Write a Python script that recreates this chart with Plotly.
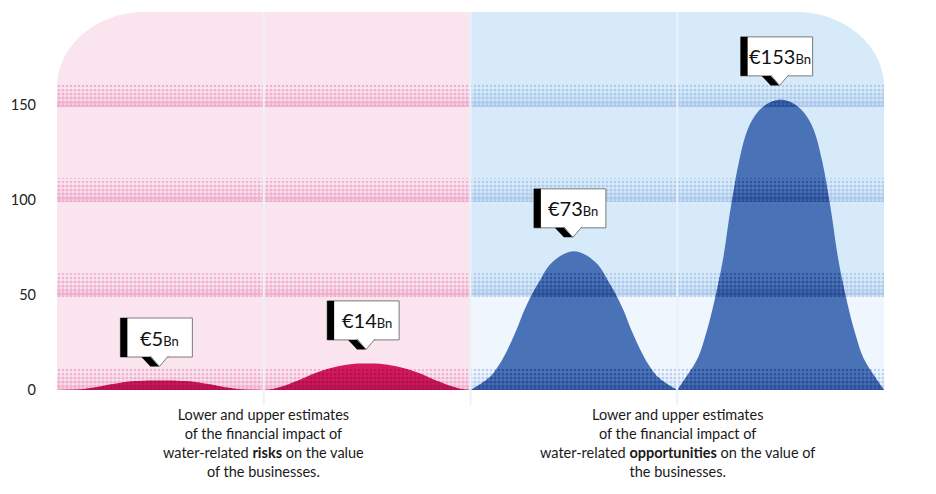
import plotly.graph_objects as go

# ---------------- data ----------------
offsets = [0, 0.05, 0.10, 0.14, 0.18, 0.22, 0.26, 0.30, 0.34, 0.38, 0.42, 0.46, 0.50,
           0.54, 0.58, 0.62, 0.66, 0.70, 0.74, 0.78, 0.82, 0.86, 0.90, 0.95, 1.0]
risk_low = [0, 0.1, 0.3, 0.7, 1.3, 2.1, 3.0, 3.7, 4.3, 4.7, 4.9, 4.98, 5,
            4.98, 4.9, 4.7, 4.3, 3.7, 3.0, 2.1, 1.3, 0.7, 0.3, 0.1, 0]
risk_high = [0, 0.7, 2.2, 3.9, 5.6, 7.6, 9.3, 10.8, 12.0, 12.9, 13.5, 13.9, 14,
             13.9, 13.5, 12.9, 12.0, 10.8, 9.3, 7.6, 5.6, 3.9, 2.2, 0.7, 0]
opp_low = [0, 3.3, 7.5, 13.5, 21.5, 31, 42, 51, 58.5, 65.5, 69.5, 72, 73,
           72, 69.5, 65.5, 58.5, 51, 42, 31, 21.5, 13.5, 7.5, 3.3, 0]
opp_high = [0, 8, 17, 30, 47, 68, 97, 121, 137, 145, 149.5, 152, 153,
            152, 149.5, 145, 137, 121, 97, 68, 47, 30, 17, 8, 0]
labels_bn = [5, 14, 73, 153]
tick_vals = [0, 50, 100, 150]
captions = [
    "Lower and upper estimates<br>of the financial impact of<br>water-related <b>risks</b> on the value<br>of the businesses.",
    "Lower and upper estimates<br>of the financial impact of<br>water-related <b>opportunities</b> on the value of<br>the businesses.",
]

series = [risk_low, risk_high, opp_low, opp_high]

# ---------------- geometry / style ----------------
W, H = 936, 494
ML, MR, MT, MB = 57, 52, 12, 104
PW, PH = W - ML - MR, H - MT - MB
XMAX, YMAX = 4, 199
def dx(p): return p * XMAX / PW
def dy(p): return p * YMAX / PH

PINK_BG, BLUE_BG, BLUE_LOW = "#fae5ef", "#d6eaf9", "#eff6fd"
PINK_DOT, BLUE_DOT = "#e67dae", "#87ace0"
PINK_DARK, BLUE_DARK = "#900a3d", "#0f2e7e"
PINK, BLUE = "#d3185b", "#4a72b6"
FONT = "Lato"

fig = go.Figure()
shapes = []
annotations = []

# backgrounds with rounded top corners
k = 0.5523
rx, ry = dx(88), dy(75)
pink_path = (f"M 0,0 L 0,{YMAX-ry} C 0,{YMAX-ry+k*ry} {rx-k*rx},{YMAX} {rx},{YMAX} "
             f"L 2,{YMAX} L 2,0 Z")
blue_path = (f"M 2,0 L 2,{YMAX} L {4-rx},{YMAX} C {4-rx+k*rx},{YMAX} 4,{YMAX-ry+k*ry} 4,{YMAX-ry} "
             f"L 4,0 Z")
shapes.append(dict(type="path", path=pink_path, fillcolor=PINK_BG, line=dict(width=0), layer="below"))
shapes.append(dict(type="path", path=blue_path, fillcolor=BLUE_BG, line=dict(width=0), layer="below"))
shapes.append(dict(type="rect", x0=2, x1=4, y0=0, y1=50, fillcolor=BLUE_LOW, line=dict(width=0), layer="below"))

# halftone band strips: (low offset, high offset, solidity)
strips = [(-1, 2, 0.8), (2, 5, 0.64), (5, 8.2, 0.47), (8.2, 11.5, 0.3)]

def band_trace(x0, x1, lo, hi, color, sol):
    return go.Scatter(x=[x0, x1, x1, x0, x0], y=[lo, lo, hi, hi, lo], mode="lines",
                      fill="toself", fillcolor="rgba(0,0,0,0)", line=dict(width=0),
                      fillpattern=dict(shape=".", fgcolor=color, bgcolor="rgba(0,0,0,0)",
                                       size=4, solidity=sol),
                      hoverinfo="skip", showlegend=False)

for v in tick_vals:
    for a, b, sol in strips:
        lo, hi = max(0, v + a), v + b
        fig.add_trace(band_trace(0, 2, lo, hi, PINK_DOT, sol))
        fig.add_trace(band_trace(2, 4, lo, hi, BLUE_DOT, sol))

# curves
for i, ys in enumerate(series):
    xs = [i + o for o in offsets]
    col = PINK if i < 2 else BLUE
    fig.add_trace(go.Scatter(x=xs, y=ys, mode="lines", line=dict(width=0, shape="spline", color=col),
                             fill="tozeroy", fillcolor=col, hoverinfo="skip", showlegend=False))

def clip_under(xs, ys, lo, hi):
    pts = []
    for j in range(len(xs) - 1):
        x0, y0, x1, y1 = xs[j], ys[j], xs[j + 1], ys[j + 1]
        pts.append((x0, y0))
        levels = [l for l in (lo, hi) if (y0 - l) * (y1 - l) < 0]
        levels.sort(key=lambda l: (l - y0) / (y1 - y0))
        for l in levels:
            t = (l - y0) / (y1 - y0)
            pts.append((x0 + t * (x1 - x0), l))
    pts.append((xs[-1], ys[-1]))
    up = [(x, min(y, hi)) for x, y in pts if y >= lo - 1e-9]
    if len(up) < 2:
        return None
    px = [p[0] for p in up] + [up[-1][0], up[0][0]]
    py = [p[1] for p in up] + [lo, lo]
    return px, py

# dark halftone where bands cross the curves
for i, ys in enumerate(series):
    xs = [i + o for o in offsets]
    dcol = PINK_DARK if i < 2 else BLUE_DARK
    for v in tick_vals:
        for a, b, sol in strips:
            lo, hi = max(0, v + a), v + b
            r = clip_under(xs, ys, lo, hi)
            if r is None:
                continue
            px, py = r
            fig.add_trace(go.Scatter(x=px, y=py, mode="lines", fill="toself",
                                     fillcolor="rgba(0,0,0,0)", line=dict(width=0),
                                     fillpattern=dict(shape=".", fgcolor=dcol, bgcolor="rgba(0,0,0,0)",
                                                      size=4, solidity=sol),
                                     hoverinfo="skip", showlegend=False))

# column dividers
for xv in [1, 2, 3]:
    shapes.append(dict(type="line", xref="x", yref="paper", x0=xv, x1=xv, y0=-dy(15) / YMAX, y1=1,
                       line=dict(color="#ecf2f9", width=2), layer="above"))

# callouts
for i, ys in enumerate(series):
    peak = max(ys)
    tx = i + 0.5 - dx(1)
    ty = peak + dy(14)
    by = ty + dy(9.5)
    top = ty + dy(48.5)
    bl, br = tx - dx(39), tx + dx(33)
    shapes.append(dict(type="rect", x0=bl, x1=br, y0=by, y1=top, fillcolor="white",
                       line=dict(color="#7a7a7a", width=1), layer="above"))
    shapes.append(dict(type="rect", x0=bl, x1=bl + dx(7), y0=by, y1=top, fillcolor="black",
                       line=dict(width=0), layer="above"))
    shadow = (f"M {tx-dx(18)},{by} L {tx-dx(9)},{by} L {tx},{ty} L {tx-dx(9)},{ty} Z")
    shapes.append(dict(type="path", path=shadow, fillcolor="black", line=dict(width=0), layer="above"))
    tri = f"M {tx-dx(9)},{by+dy(1)} L {tx},{ty} L {tx+dx(9)},{by+dy(1)}"
    shapes.append(dict(type="path", path=tri, fillcolor="white",
                       line=dict(color="#7a7a7a", width=1), layer="above"))
    annotations.append(dict(x=(bl + dx(7) + br) / 2, y=(by + top) / 2, xref="x", yref="y",
                            text=f"€{labels_bn[i]}<span style='font-size:13px'>Bn</span>",
                            showarrow=False, font=dict(family=FONT, size=20, color="#111111"),
                            xanchor="center", yanchor="middle"))

# captions
for j, cap in enumerate(captions):
    annotations.append(dict(x=1 + 2 * j, y=-dy(53) / YMAX, xref="x", yref="paper", text=cap,
                            showarrow=False, font=dict(family=FONT, size=14.5, color="#1a1a1a"),
                            align="center", xanchor="center", yanchor="middle"))

fig.update_layout(
    width=W, height=H, margin=dict(l=ML, r=MR, t=MT, b=MB),
    paper_bgcolor="white", plot_bgcolor="rgba(0,0,0,0)",
    shapes=shapes, annotations=annotations, showlegend=False,
    xaxis=dict(range=[0, XMAX], visible=False, fixedrange=True),
    yaxis=dict(range=[0, YMAX], tickvals=tick_vals, showgrid=False, zeroline=False,
               showline=False, ticks="", ticklabelstandoff=20,
               tickfont=dict(family=FONT, size=14.5, color="#222222"), fixedrange=True),
    font=dict(family=FONT),
)

fig.write_html("out.html", config={"displayModeBar": False},
               post_script="document.body.style.margin='0';document.body.style.overflow='hidden';")
